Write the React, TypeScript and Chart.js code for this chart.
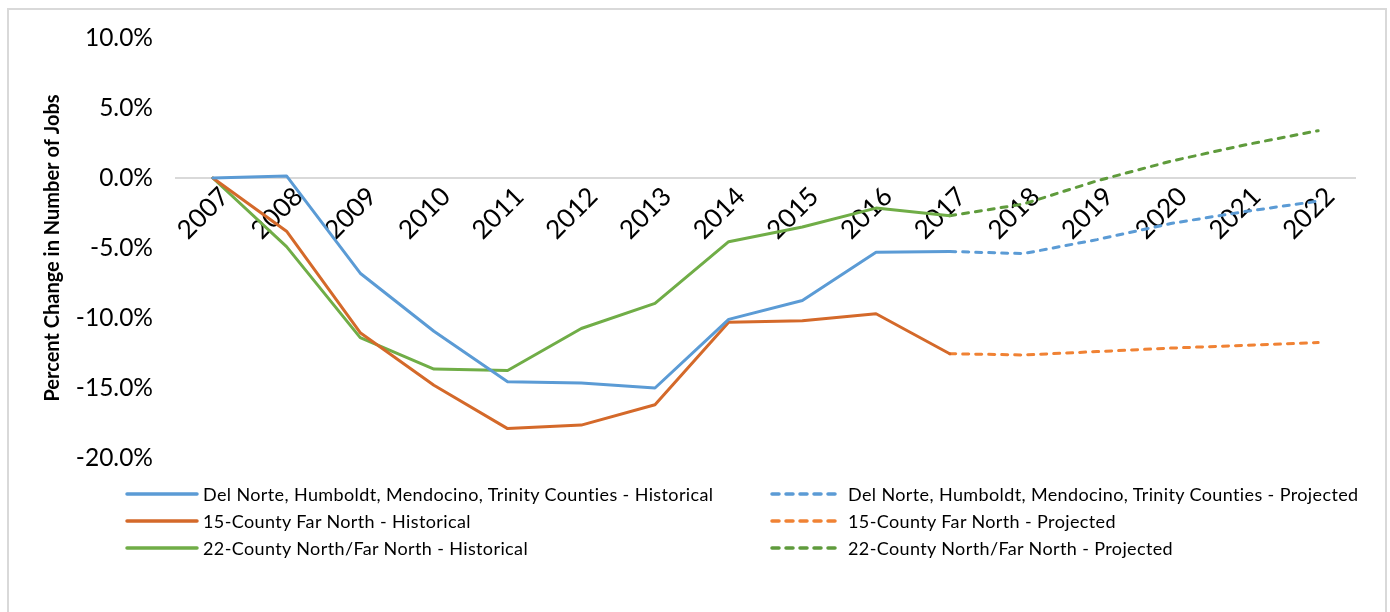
import React, { useEffect, useRef } from "react";
import { Chart, registerables } from "chart.js";

Chart.register(...registerables);

const years = ["2007", "2008", "2009", "2010", "2011", "2012", "2013", "2014", "2015", "2016", "2017", "2018", "2019", "2020", "2021", "2022"];

const delNorteHistorical = [0, 0.15, -6.8, -10.95, -14.55, -14.65, -15.0, -10.1, -8.75, -5.3, -5.25, null, null, null, null, null];
const delNorteProjected = [null, null, null, null, null, null, null, null, null, null, -5.25, -5.4, -4.4, -3.25, -2.4, -1.65];
const farNorthHistorical = [0, -3.8, -11.05, -14.8, -17.9, -17.65, -16.2, -10.3, -10.2, -9.7, -12.55, null, null, null, null, null];
const farNorthProjected = [null, null, null, null, null, null, null, null, null, null, -12.55, -12.64, -12.4, -12.15, -11.95, -11.75];
const northHistorical = [0, -4.9, -11.4, -13.65, -13.75, -10.75, -8.95, -4.55, -3.5, -2.15, -2.7, null, null, null, null, null];
const northProjected = [null, null, null, null, null, null, null, null, null, null, -2.7, -1.86, -0.2, 1.2, 2.36, 3.38];

const yTicks = [10, 5, 0, -5, -10, -15, -20];

const seriesNames = [
  "Del Norte, Humboldt, Mendocino, Trinity Counties - Historical",
  "Del Norte, Humboldt, Mendocino, Trinity Counties - Projected",
  "15-County Far North - Historical",
  "15-County Far North - Projected",
  "22-County North/Far North - Historical",
  "22-County North/Far North - Projected",
];
const seriesData = [delNorteHistorical, delNorteProjected, farNorthHistorical, farNorthProjected, northHistorical, northProjected];
const seriesColors = ["#5B9BD5", "#5B9BD5", "#D4692A", "#F08234", "#70AD47", "#5F9B3C"];
const seriesDashed = [false, true, false, true, false, true];

const FONT = "Lato, 'Open Sans', sans-serif";
const DASH = [6, 7];

export default function App() {
  const canvasRef = useRef<HTMLCanvasElement | null>(null);

  useEffect(() => {
    const canvas = canvasRef.current;
    if (!canvas) return;
    const chart = new Chart(canvas, {
      type: "line",
      data: {
        labels: years,
        datasets: seriesNames.map((name, i) => ({
          label: name,
          data: seriesData[i],
          borderColor: seriesColors[i],
          backgroundColor: seriesColors[i],
          borderWidth: 3,
          borderDash: seriesDashed[i] ? DASH : [],
          borderCapStyle: "round",
          borderJoinStyle: "round",
          pointRadius: 0,
          pointHoverRadius: 0,
          tension: 0,
          fill: false,
          spanGaps: false,
        })),
      },
      options: {
        animation: false,
        responsive: true,
        maintainAspectRatio: false,
        layout: { padding: { left: 0, top: 38, right: 35, bottom: 154 } },
        plugins: { legend: { display: false }, tooltip: { enabled: false }, title: { display: false } },
        scales: {
          x: {
            type: "category",
            position: { y: 0 },
            offset: true,
            grid: { display: false, drawTicks: false },
            border: { display: true, color: "#d9d9d9", width: 2 },
            ticks: {
              minRotation: 45,
              maxRotation: 45,
              autoSkip: false,
              padding: 3,
              labelOffset: 12,
              color: "#000",
              font: { family: FONT, size: 26 },
            },
          },
          y: {
            min: -20,
            max: 10,
            afterBuildTicks: (scale: any) => {
              scale.ticks = yTicks.map((v) => ({ value: v }));
            },
            afterFit: (scale: any) => {
              scale.width = 176;
            },
            grid: { display: false, drawTicks: false },
            border: { display: false },
            ticks: {
              padding: 23,
              color: "#000",
              font: { family: FONT, size: 24.5 },
              callback: (v: any) => Number(v).toFixed(1) + "%",
            },
            title: {
              display: true,
              text: "Percent Change in Number of Jobs",
              color: "#000",
              font: { family: FONT, size: 20, weight: "bold" },
              padding: { top: 41, bottom: 0 },
            },
          },
        },
      },
    });
    return () => chart.destroy();
  }, []);

  const rowTops = [494, 521, 548];
  const colLine = [127, 772];
  const colText = [203, 848];

  return (
    <div style={{ position: "fixed", left: 0, top: 0, width: 1390, height: 612, background: "#fff", overflow: "hidden" }}>
      <div style={{ position: "absolute", left: 7, top: 8, width: 1380, height: 620, border: "2px solid #d9d9d9", boxSizing: "border-box" }} />
      <div style={{ position: "absolute", left: 0, top: 0, width: 1390, height: 612 }}>
        <canvas ref={canvasRef} />
      </div>
      {seriesNames.map((name, i) => {
        const col = i % 2;
        const row = Math.floor(i / 2);
        const cy = rowTops[row];
        return (
          <React.Fragment key={name}>
            <svg style={{ position: "absolute", left: colLine[col] - 2, top: cy - 4 }} width={74} height={8}>
              <line
                x1={2}
                y1={4}
                x2={72}
                y2={4}
                stroke={seriesColors[i]}
                strokeWidth={3.5}
                strokeLinecap="round"
                strokeDasharray={seriesDashed[i] ? "7 7" : undefined}
              />
            </svg>
            <div
              style={{
                position: "absolute",
                left: colText[col],
                top: cy - 12,
                height: 24,
                lineHeight: "24px",
                fontFamily: FONT,
                fontSize: 18,
                letterSpacing: "0.38px",
                color: "#000",
                whiteSpace: "nowrap",
              }}
            >
              {name}
            </div>
          </React.Fragment>
        );
      })}
    </div>
  );
}
